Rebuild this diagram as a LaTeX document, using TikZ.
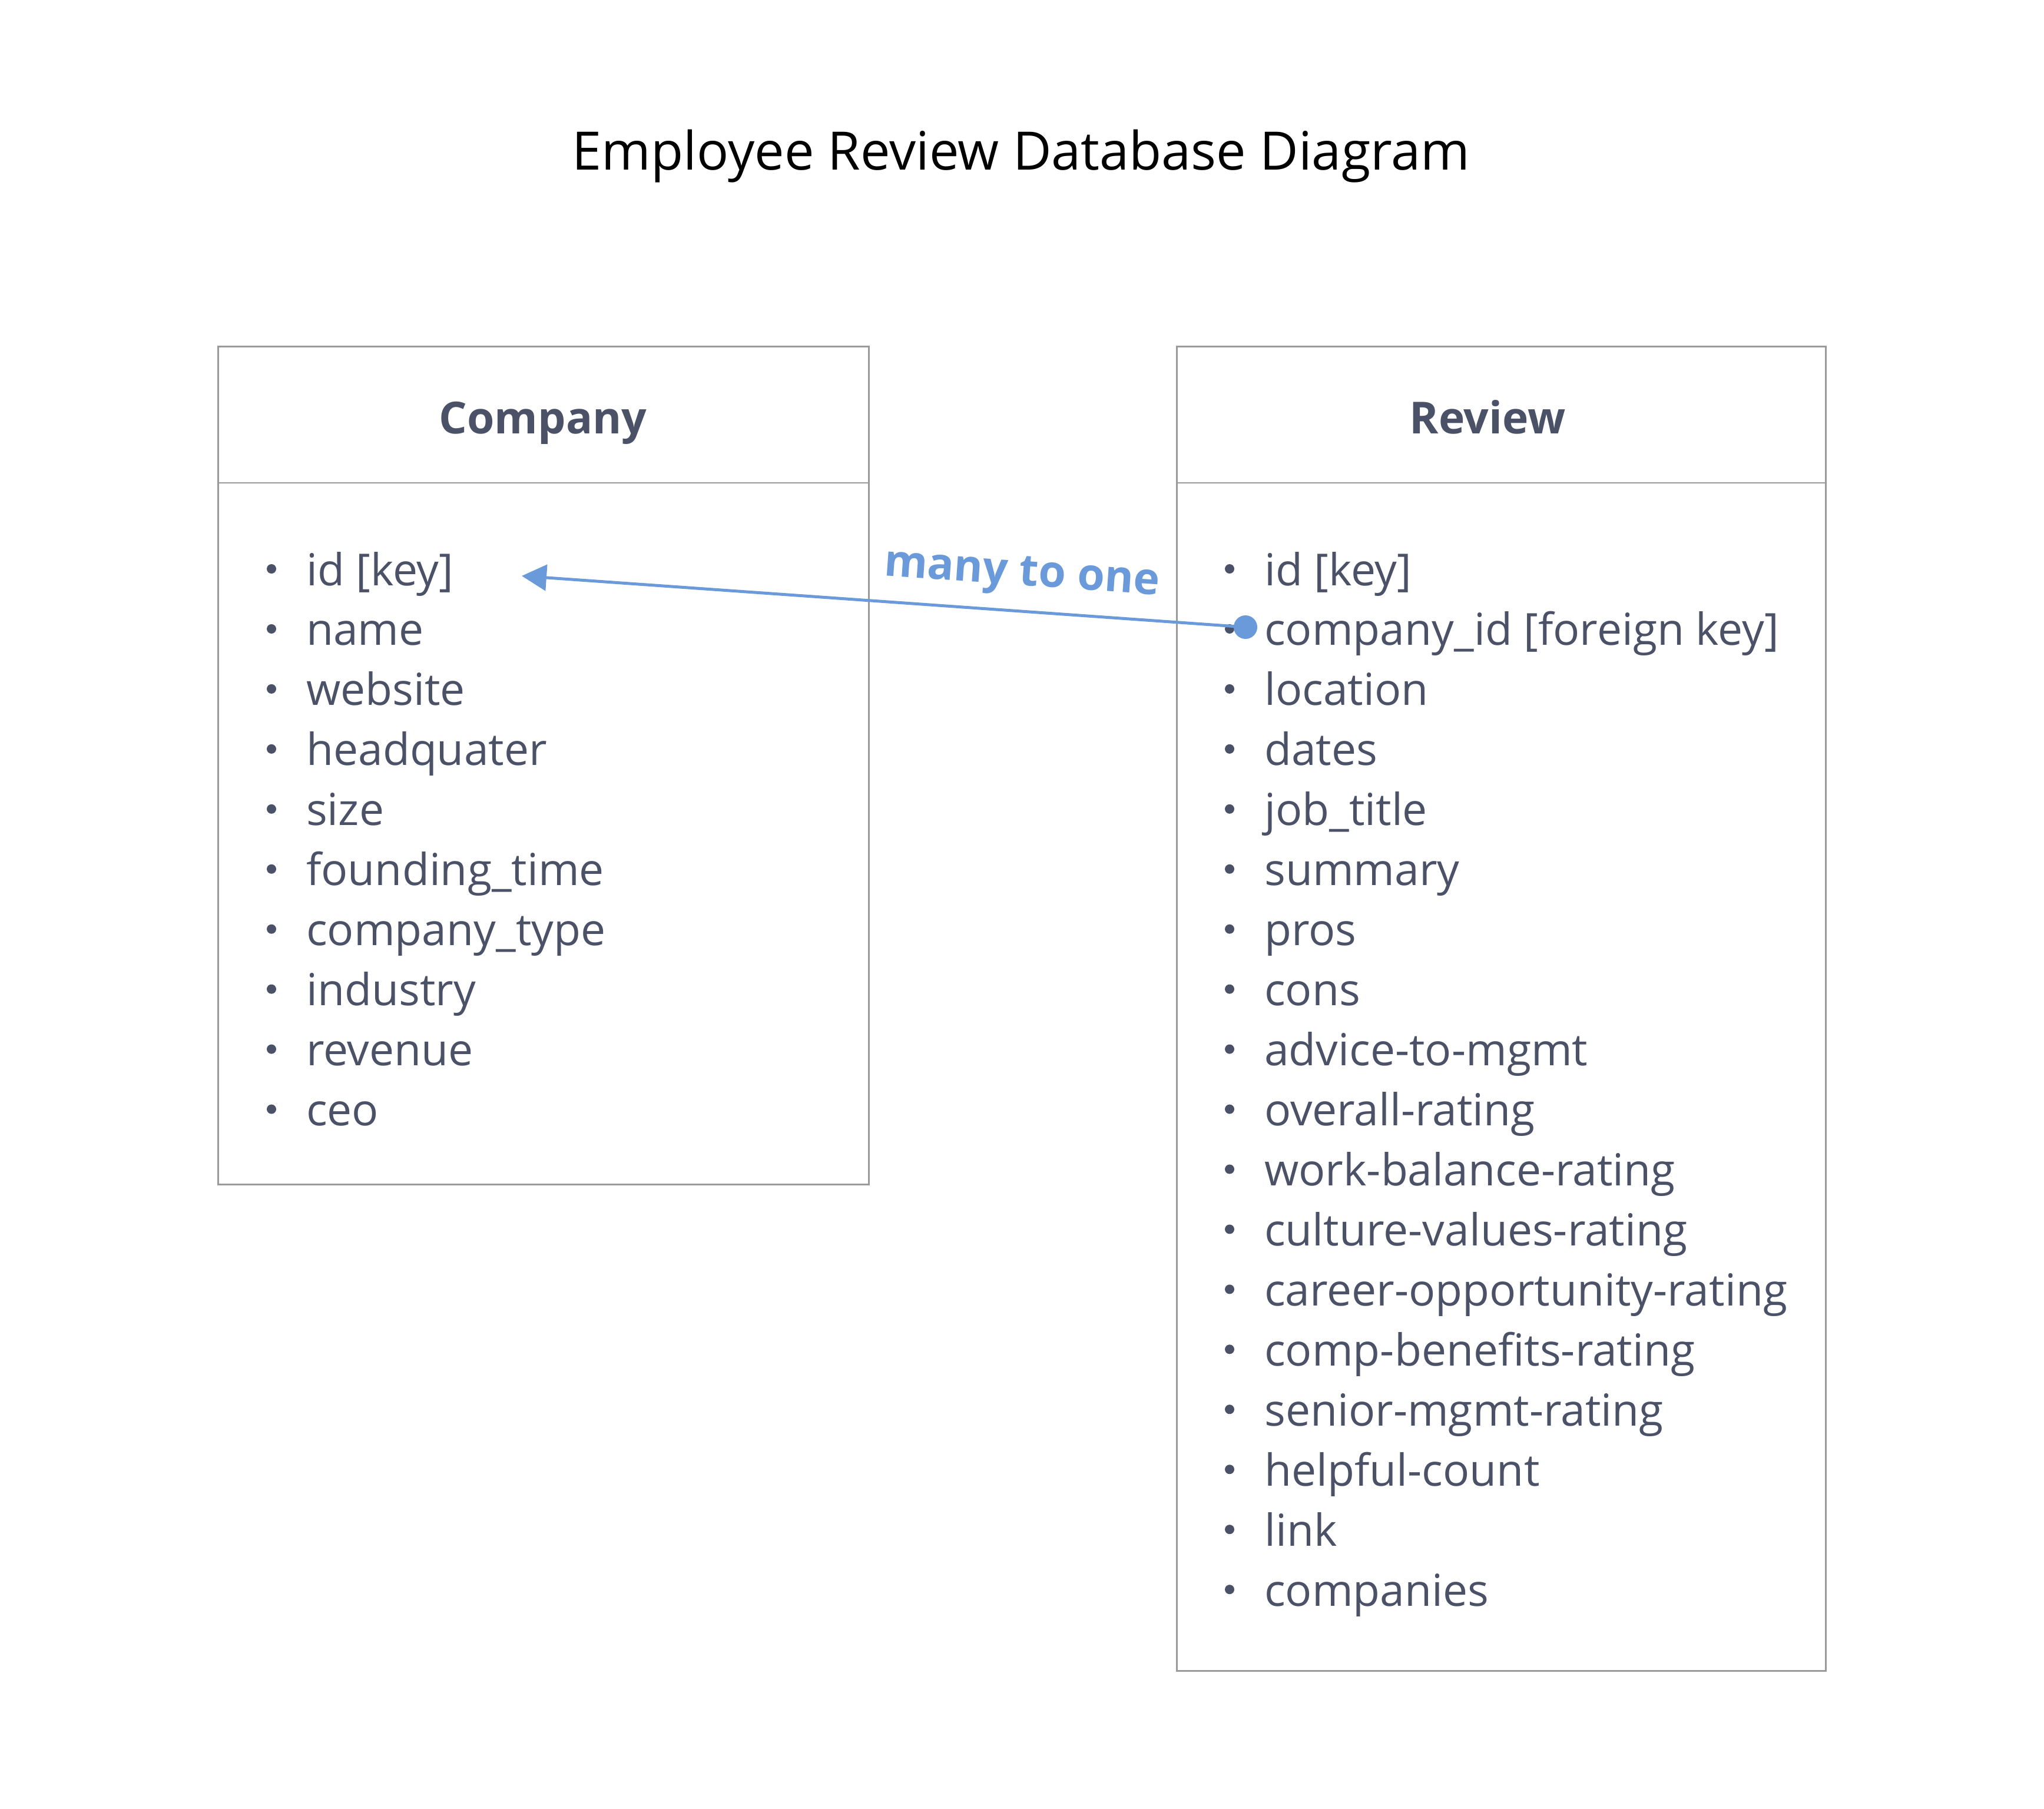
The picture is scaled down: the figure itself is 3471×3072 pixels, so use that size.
\documentclass[tikz,border=0pt]{standalone}
\usepackage{fontspec}
\setmainfont{Open Sans}
\usetikzlibrary{arrows.meta}
\definecolor{txt}{HTML}{4B5267}
\definecolor{rel}{HTML}{6A9AD9}
\definecolor{frame}{HTML}{9A9A9A}
\begin{document}
\begin{tikzpicture}[x=1pt,y=-1pt,
  tablebox/.style={draw=frame,line width=2.5pt,anchor=north west,inner sep=0pt},
  headtxt/.style={font=\fontsize{75}{90}\selectfont\bfseries,text=txt,anchor=base},
  item/.style={font=\fontsize{75}{90}\selectfont,text=txt,anchor=base west,inner sep=0pt},
  dotb/.style={fill=txt,draw=none,circle,inner sep=0pt,minimum size=16pt},
  relline/.style={draw=rel,line width=5pt,-{Triangle[length=42pt,width=44pt]}},
  rellabel/.style={font=\fontsize{75}{90}\selectfont\bfseries,text=rel,anchor=base,rotate=-4}]
\useasboundingbox (0,0) rectangle (3471,3072);
\node[font=\fontsize{90}{105}\selectfont,anchor=base] (title) at (1734,288) {Employee Review Database Diagram};
% Company table
\node[tablebox,minimum width=1105pt,minimum height=1423pt] (companybox) at (369,587) {};
\draw[frame,line width=2.5pt] (companybox.west |- 0,820) -- (companybox.east |- 0,820);
\node[headtxt] (companyhead) at (922,736) {Company};
\foreach \t [count=\i from 0] in {id [key],name,website,headquater,size,founding\_time,company\_type,industry,revenue,ceo}{
  \node[dotb] (cb\i) at (461,{994+\i*101.95-28}) {};
  \node[item] (c\i) at (520,{994+\i*101.95}) {\t};
}
% Review table
\node[tablebox,minimum width=1102pt,minimum height=2249pt] (reviewbox) at (1997,587) {};
\draw[frame,line width=2.5pt] (reviewbox.west |- 0,820) -- (reviewbox.east |- 0,820);
\node[headtxt] (reviewhead) at (2526,736) {Review};
\foreach \t [count=\i from 0] in {id [key],company\_id [foreign key],location,dates,job\_title,summary,pros,cons,advice-to-mgmt,overall-rating,work-balance-rating,culture-values-rating,career-opportunity-rating,comp-benefits-rating,senior-mgmt-rating,helpful-count,link,companies}{
  \node[dotb] (rb\i) at (2088,{994+\i*101.95-28}) {};
  \node[item] (r\i) at (2147,{994+\i*101.95}) {\t};
}
% relation
\coordinate (fkdot) at (2115,1065);
\coordinate (pktip) at (886,978);
\draw[relline] (fkdot) -- (pktip);
\fill[rel] (fkdot) circle (20pt);
\node[rellabel] (rellbl) at (1734,994) {many to one};
\end{tikzpicture}
\end{document}
